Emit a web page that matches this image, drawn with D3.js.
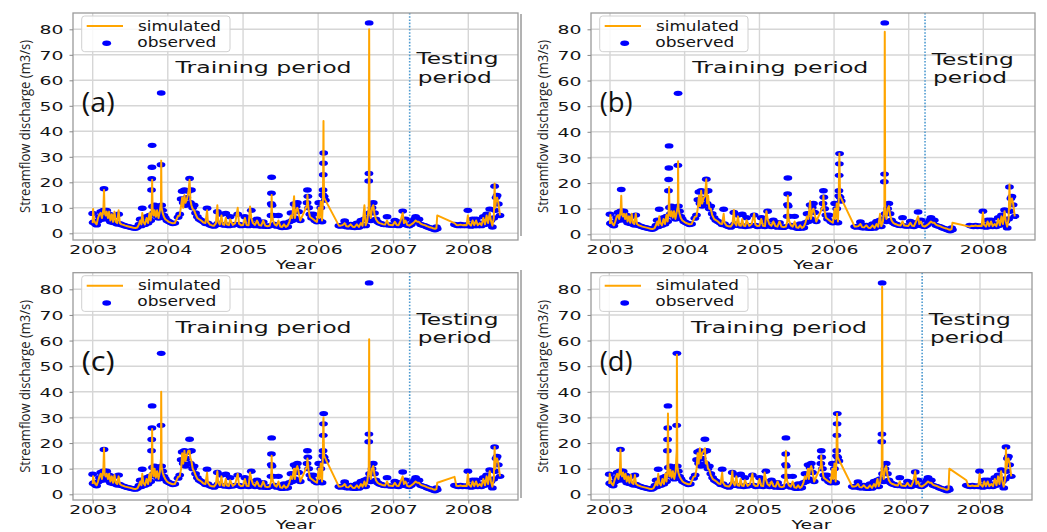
<!DOCTYPE html>
<html><head><meta charset="utf-8">
<script src="https://cdn.jsdelivr.net/npm/d3@7"></script>
<style>body{margin:0;background:#fff} svg{display:block}</style>
</head><body>
<svg id="chart" width="1047" height="532"></svg>
<script>
const dates = [
"2003-01-01","2003-01-03","2003-01-08","2003-01-14","2003-01-20","2003-01-27","2003-02-03","2003-02-09","2003-02-15","2003-02-22",
"2003-02-25","2003-02-28","2003-03-05","2003-03-10","2003-03-16","2003-03-22","2003-03-28","2003-04-04","2003-04-10","2003-04-17",
"2003-04-23","2003-04-30","2003-05-07","2003-05-13","2003-05-21","2003-05-30","2003-06-08","2003-06-18","2003-06-28","2003-07-08",
"2003-07-18","2003-07-28","2003-08-06","2003-08-14","2003-08-20","2003-08-26","2003-08-30","2003-09-04","2003-09-12","2003-09-20",
"2003-09-27","2003-10-04","2003-10-10","2003-10-14","2003-10-15","2003-10-16","2003-10-17","2003-10-19","2003-10-24","2003-10-29",
"2003-11-04","2003-11-10","2003-11-17","2003-11-24","2003-11-29","2003-11-30","2003-12-02","2003-12-07","2003-12-13","2003-12-20",
"2003-12-28","2004-01-06","2004-01-15","2004-01-25","2004-02-04","2004-02-20","2004-02-28","2004-03-06","2004-03-11","2004-03-16",
"2004-03-22","2004-03-27","2004-04-02","2004-04-10","2004-04-16","2004-04-20","2004-04-25","2004-05-01","2004-05-08","2004-05-15",
"2004-05-24","2004-06-02","2004-06-12","2004-06-22","2004-07-02","2004-07-10","2004-07-14","2004-07-24","2004-08-03","2004-08-13",
"2004-08-22","2004-08-29","2004-09-02","2004-09-10","2004-09-18","2004-09-24","2004-10-02","2004-10-09","2004-10-15","2004-10-24",
"2004-10-30","2004-11-12","2004-11-24","2004-12-06","2004-12-12","2004-12-22","2005-01-01","2005-01-10","2005-01-18","2005-01-28",
"2005-02-04","2005-02-10","2005-02-18","2005-02-28","2005-03-10","2005-03-20","2005-03-30","2005-04-09","2005-04-19","2005-04-29",
"2005-05-10","2005-05-17","2005-05-18","2005-05-19","2005-05-20","2005-05-22","2005-05-27","2005-06-04","2005-06-13","2005-06-22",
"2005-07-01","2005-07-10","2005-07-19","2005-07-28","2005-08-06","2005-08-14","2005-08-22","2005-08-28","2005-09-06","2005-09-10",
"2005-09-16","2005-09-22","2005-09-28","2005-10-06","2005-11-08","2005-11-10","2005-11-12","2005-11-16","2005-11-22","2005-11-30",
"2005-12-08","2005-12-16","2005-12-26","2006-01-04","2006-01-08","2006-01-14","2006-01-20","2006-01-24","2006-01-25","2006-01-26",
"2006-01-27","2006-01-28","2006-01-30","2006-02-05","2006-04-12","2006-04-20","2006-04-30","2006-05-10","2006-05-18","2006-05-28",
"2006-06-08","2006-06-18","2006-06-28","2006-07-08","2006-07-18","2006-07-28","2006-08-05","2006-08-14","2006-08-20","2006-08-28",
"2006-09-04","2006-09-05","2006-09-06","2006-09-08","2006-09-14","2006-09-20","2006-09-26","2006-10-02","2006-10-09","2006-10-17",
"2006-10-26","2006-11-04","2006-11-13","2006-11-22","2006-12-02","2006-12-10","2006-12-20","2006-12-30","2007-01-09","2007-01-18",
"2007-01-27","2007-02-06","2007-02-16","2007-02-22","2007-03-02","2007-03-10","2007-03-20","2007-03-30","2007-04-08","2007-04-14",
"2007-04-20","2007-04-28","2007-05-06","2007-05-14","2007-05-24","2007-06-03","2007-06-13","2007-06-23","2007-07-03","2007-07-13",
"2007-07-23","2007-07-30","2007-08-03","2007-10-26","2007-11-04","2007-11-14","2007-11-24","2007-12-04","2007-12-14","2007-12-24",
"2007-12-30","2008-01-04","2008-01-14","2008-01-22","2008-01-30","2008-02-08","2008-02-16","2008-02-26","2008-03-05","2008-03-14",
"2008-03-22","2008-03-30","2008-04-06","2008-04-14","2008-04-20","2008-04-27","2008-05-04","2008-05-08","2008-05-11","2008-05-15",
"2008-05-20","2008-05-26","2008-06-03"];

const observed = [
7.8,4.2,4.5,3.6,3.3,4.8,6.5,8.5,5.5,9,
17.5,9,6.5,9,5.5,7.5,4.5,6.5,4.2,7,
4,3.6,7.5,3.8,3.4,3.2,2.9,2.7,2.5,2.3,
2.1,2,2.4,3.5,5.5,3,9.8,4.5,3.5,6.5,
4,7,5,17,21.4,25.9,34.5,10.5,8,11,
7,9.5,6,8.5,26.9,55,11,9,7,6,
5,4.6,4.2,3.8,4,6.3,7.5,13.5,16.5,12,
17,11,14,16.5,21.5,12,17,10,11,8,
6.5,5.5,5,4.5,3.8,9.8,4,3.3,3,2.8,
3.3,8.5,4,3.5,7.5,3.4,3.2,7.8,3.3,3,
6.5,3.2,3.5,7.5,3.5,3,3.2,6.5,3.2,3,
5,9,3.5,3,5.5,3,2.8,4.5,2.8,2.7,
3,7,11.6,15.7,22,11,7,3.5,2.8,7,
2.5,2.3,4,2.4,2.6,4.5,8,5,11.5,6,
10.5,12,8.5,5,12,17,14.5,10,7.5,6,
7.5,5,4.5,12,5,10,4.5,15,17,23,
27.5,31.5,14.5,13,3,2.8,3.2,4.8,2.6,2.5,
3.5,2.4,2.3,4,2.4,5,3,5.5,3,6,
20.5,23.5,82.5,8,5,10,12,8,5.5,4.5,
4,3.8,3.5,3.4,6.5,3.3,3.2,3.2,5,3.2,
3,4.5,8.7,3.5,5.5,3.2,3,3.5,4.5,5.5,
6.5,4.5,5.5,3.5,3.2,3,2.6,2.3,2,1.7,
1.4,2.5,1.8,3.5,3.2,3,3.5,3,3.3,3,
9,3.5,2.8,5.5,3,5.5,3,4,3,6.5,
3.5,7.5,4,9.5,5,2.5,6,18.5,9,14,
14.8,11.5,7];

const simA = [
4,9.5,5,4,3.5,6,7.5,8,6,9.5,
17,8,7,8.5,6,8.5,5,7.5,4.5,8.5,
4.5,4,9,4,3.5,3.3,3,2.8,2.6,2.4,
2.2,2.1,2.3,3.5,5,3.5,8,4.5,3.5,6,
4,8,5,8,11,15,21,10,7,9,
6.5,9,6,9,12,28.5,10,8,6.5,5.5,
5,4.5,4.2,3.9,4,6.8,7,11,14,10,
15,12,13,16,21,13,11,9.5,9,7.5,
6,5.5,5,4.2,4,9,4.5,3.4,3.1,3,
4,11,4.5,3.5,7,3.5,3.3,6,3.4,3.2,
5.5,3.3,4,10,3.8,3.2,3.3,6,3.3,3.2,
10.5,6,4,3.3,5,3.2,3,5,3,2.8,
3,5,8,10,15,7,5,3.5,3,5,
2.7,2.5,3.5,2.5,3,4.5,7,6,14.5,6,
9,10,8,5,11,15,12,9,6.5,6,
5.5,5,4.5,10,6,12.5,5,12,20,30,
44,25,14,13,3,3,3.2,4,2.8,2.7,
3.5,2.6,2.5,3.5,2.5,4,3,11,3.2,5,
10,30,80,9,6,10,11,7.5,5.5,4.5,
4,3.8,3.5,3.4,5,3.4,3.3,3.2,4.5,3.3,
3.2,5,8,4,5,3.3,3,3.5,4,4.5,
5,4.5,4.5,3.8,3.4,3.2,2.8,2.5,2.3,2,
1.8,2,7,4,3.3,3.2,3.4,3.2,3.3,3.2,
7,3.8,3,5,3.2,5,3.2,4,3.2,6,
3.5,7,4,8,5,3,6,19.5,10,13,
14,12,7];

const simB = [
4,7.5,5,4,3.5,5,7,7.5,6,9,
15,8,7,8,6,8,5,7,4.5,8,
4.5,4,8,4,3.5,3.3,3,2.8,2.6,2.4,
2.2,2.1,2.3,3.5,5,3.5,7,4.5,3.5,6,
4,7.5,5,8,10,13,18.5,9,7,9,
6.5,9,6,9,11,28.5,10,8,6.5,5.5,
5,4.5,4.2,3.9,4,6.8,7,10.5,15,11,
17,12,14,15,21.5,12,15,10,10,7.5,
6,5.5,5,4.2,4,8,4.5,3.4,3.1,3,
4,9.5,4.5,3.5,7,3.5,3.3,6,3.4,3.2,
5.5,3.3,4,8,3.8,3.2,3.3,6,3.3,3.2,
9,6,4,3.3,5,3.2,3,5,3,2.8,
3,5,8,10,15,7,5,3.5,3,5,
2.7,2.5,3.5,2.5,3,4.5,7,6,13,6,
9,10,8,5,11,15,12,9,6.5,6,
5.5,5,4.5,10,6,12,5,14,22,28,
31.5,27,15,14,3,3,3.2,4,2.8,2.7,
3.5,2.6,2.5,3.5,2.5,4,3,8,3.2,5,
10,30,79,9,6,10,11,7.5,5.5,4.5,
4,3.8,3.5,3.4,5,3.4,3.3,3.2,4.5,3.3,
3.2,5,7,4,5,3.3,3,3.5,4,4.5,
5,4.5,4.5,3.8,3.4,3.2,2.8,2.5,2.3,2,
1.8,2,4.5,3,3.3,3.2,3.4,3.2,3.3,3.2,
8.5,3.8,3,5,3.2,5,3.2,4,3.2,6,
3.5,7,4,9,5,3,6,19.5,10,13,
14,12,7];

const simC = [
4,7,5,4,3.5,5,7,8,6,10,
18,8,7,8,6,8,5,7,4.5,7.5,
4.5,4,7,4,3.5,3.3,3,2.8,2.6,2.4,
2.2,2.1,2.3,3.5,5,3.5,8,4.5,3.5,6,
4,8,5,9,12,18,25.5,11,7,10,
6.5,9,6,9,14,40,11,8.5,7,6,
5,4.5,4.2,3.9,4,6.8,7,10,16,12,
17,13,15,17,17,14,13,10,9,7.5,
6,5.5,5,4.2,4,8.5,4.5,3.4,3.1,3,
4,9,4.5,3.5,7,3.5,3.3,6,3.4,3.2,
5.5,3.3,4,8,3.8,3.2,3.3,6,3.3,3.2,
8.5,6,4,3.3,5,3.2,3,5,3,2.8,
3,5,8,10,15,7,5,3.5,3,5,
2.7,2.5,3.5,2.5,3,4.5,7,6,10,6,
10,11,9,5,11,14,12,9,6.5,6,
5.5,5,4.5,10,6,12,5,15,22,28,
30,22,15,14,3,3,3.2,4,2.8,2.7,
3.5,2.6,2.5,3.5,2.5,4,3,5,3.2,5,
10,25,60.5,9,6,10,11,7.5,5.5,4.5,
4,3.8,3.5,3.4,5,3.4,3.3,3.2,4.5,3.3,
3.2,5,7,4,5,3.3,3,3.5,4,4.5,
5,4.5,4.5,3.8,3.4,3.2,2.8,2.5,2.3,2,
1.8,2,4.5,6.8,3.3,3.2,3.4,3.2,3.3,3.2,
8,3.8,3,5,3.2,5,3.2,4,3.2,6,
3.5,7,4,9,5,3,6,18.5,10,14,
14,12,7];

const simD = [
4,8,5,4,3.5,5.5,7,8,6,9.5,
17.5,8,7,8.5,6,8,5,7,4.5,7.5,
4.5,4,7.5,4,3.5,3.3,3,2.8,2.6,2.4,
2.2,2.1,2.3,3.5,5,3.5,8,4.5,3.5,6,
4,8,5,9,14,22,31.5,11,7,9.5,
6.5,9,6,9,17,54.5,11,8.5,7,6,
5,4.5,4.2,3.9,4,6.8,7,10,16,12,
18,14,16,17,18,12,13,10,9.5,7.5,
6,5.5,5,4.2,4,8.5,4.5,3.4,3.1,3,
4,9,4.5,3.5,7,3.5,3.3,6,3.4,3.2,
5.5,3.3,4,8,3.8,3.2,3.3,6,3.3,3.2,
8.5,6,4,3.3,5,3.2,3,5,3,2.8,
3,6,10,13,17,7,5,3.5,3,5,
2.7,2.5,3.5,2.5,3,4.5,7,6,10,6,
10,11,9,5,11,15,12,9,6.5,6,
5.5,5,4.5,10,6,12,5,14,22,28,
31.5,25,14.5,13.5,3,3,3.2,4,2.8,2.7,
3.5,2.6,2.5,3.5,2.5,4,3,6,3.2,5,
10,30,81,9,6,10,11,7.5,5.5,4.5,
4,3.8,3.5,3.4,5,3.4,3.3,3.2,4.5,3.3,
3.2,5,9,4,5,3.3,3,3.5,4,4.5,
5,4.5,4.5,3.8,3.4,3.2,2.8,2.5,2.3,2,
1.8,2,10,5.5,3.3,3.2,3.4,3.2,3.3,3.2,
8,3.8,3,5,3.2,5,3.2,4,3.2,6,
3.5,7,4,9,5,3,6,18,10,13,
14,12,7];

const yTicks = [0,10,20,30,40,50,60,70,80];
const xTickYears = [2003,2004,2005,2006,2007,2008];
const panelLabels = ["(a)","(b)","(c)","(d)"];
const legendLabels = ["simulated","observed"];
const splitDate = "2007-03-22";
const yLabel = "Streamflow discharge (m3/s)";
const xLabel = "Year";
const trainingText = "Training period";
const testingText = ["Testing","period"];

const parse = d3.timeParse("%Y-%m-%d");
const svg = d3.select("#chart");
svg.append("rect").attr("width",1047).attr("height",532).attr("fill","#fff");

const panels = [
 {label:panelLabels[0], sim:simA, left:73,  right:518,  top:13,    bottom:240, x2003:92.7,  x2008:468.3, y0:233.3, y80:29.3},
 {label:panelLabels[1], sim:simB, left:591, right:1035, top:13,    bottom:240, x2003:610,   x2008:983.3, y0:234.3, y80:29.3},
 {label:panelLabels[2], sim:simC, left:73,  right:518,  top:272.7, bottom:500, x2003:92.7,  x2008:468.3, y0:494.3, y80:289.3},
 {label:panelLabels[3], sim:simD, left:591, right:1032, top:272.7, bottom:500, x2003:609.3, x2008:980,   y0:494.3, y80:289.3}
];

const SX = 1.45;
const DJ = "DejaVu Sans, sans-serif";
const OS = "Open Sans, Lato, sans-serif";
const ORANGE = "#ffa500", BLUE = "#0000ff";
const INK = "#141414";

[[14,236],[270,498]].forEach(([a,b]) => {
  svg.append("line").attr("x1",521).attr("x2",521).attr("y1",a).attr("y2",b)
    .attr("stroke","#666").attr("stroke-width",1);
});

panels.forEach(p => {
  const x = d3.scaleTime().domain([new Date(2003,0,1), new Date(2008,0,1)]).range([p.x2003, p.x2008]);
  const y = d3.scaleLinear().domain([0,80]).range([p.y0, p.y80]);
  const g = svg.append("g");

  g.append("g").selectAll("line").data(yTicks).join("line")
    .attr("x1",p.left).attr("x2",p.right).attr("y1",d=>y(d)).attr("y2",d=>y(d))
    .attr("stroke","#d6d6d6").attr("stroke-width",1.4);
  g.append("g").selectAll("line").data(xTickYears).join("line")
    .attr("x1",d=>x(new Date(d,0,1))).attr("x2",d=>x(new Date(d,0,1)))
    .attr("y1",p.top).attr("y2",p.bottom)
    .attr("stroke","#d6d6d6").attr("stroke-width",1.4);

  const xs = x(parse(splitDate));
  g.append("line").attr("x1",xs).attr("x2",xs).attr("y1",p.top).attr("y2",p.bottom)
    .attr("stroke","#4f9bd0").attr("stroke-width",1.6).attr("stroke-dasharray","1.6,1.6");

  const pts = dates.map((d,i)=>({t:parse(d), o:observed[i], s:p.sim[i]}));
  g.append("g").selectAll("ellipse").data(pts).join("ellipse")
    .attr("cx",d=>x(d.t)).attr("cy",d=>y(d.o)).attr("rx",4.4).attr("ry",2.7)
    .attr("fill",BLUE);
  g.append("path").datum(pts)
    .attr("d", d3.line().x(d=>x(d.t)).y(d=>y(d.s)))
    .attr("fill","none").attr("stroke",ORANGE).attr("stroke-width",2).attr("stroke-linejoin","round");

  g.append("rect").attr("x",p.left).attr("y",p.top)
    .attr("width",p.right-p.left).attr("height",p.bottom-p.top)
    .attr("fill","none").attr("stroke","#9a9a9a").attr("stroke-width",1.3);

  const ax = g.append("g").attr("transform",`translate(0,${p.bottom})`)
    .call(d3.axisBottom(x).tickValues(xTickYears.map(v=>new Date(v,0,1)))
      .tickFormat(d3.timeFormat("%Y")).tickSize(3.5));
  ax.select(".domain").remove();
  ax.selectAll(".tick line").attr("stroke","#888");
  ax.selectAll(".tick text").attr("y",14.5).attr("dy",null)
    .attr("font-family",DJ).attr("font-size",13).attr("fill",INK)
    .attr("transform",`scale(${SX},1)`);

  const ay = g.append("g").attr("transform",`translate(${p.left},0)`)
    .call(d3.axisLeft(y).tickValues(yTicks).tickSize(3.5));
  ay.select(".domain").remove();
  ay.selectAll(".tick line").attr("stroke","#888");
  ay.selectAll(".tick text").attr("x",-9.5/SX).attr("dy","0.36em")
    .attr("font-family",DJ).attr("font-size",13).attr("fill",INK)
    .attr("transform",`scale(${SX},1)`);

  g.append("text").attr("x",(p.left+p.right)/2).attr("y",p.bottom+29)
    .attr("text-anchor","middle").attr("font-family",DJ).attr("font-size",12)
    .attr("textLength",40).attr("lengthAdjust","spacingAndGlyphs").attr("fill",INK)
    .text(xLabel);
  g.append("text")
    .attr("transform",`translate(${p.left-43.5},${(p.top+p.bottom)/2}) rotate(-90)`)
    .attr("text-anchor","middle").attr("font-family",OS).attr("font-size",15)
    .attr("textLength",173).attr("lengthAdjust","spacingAndGlyphs").attr("fill","#222")
    .text(yLabel);

  g.append("text").attr("x",p.left+8.7).attr("y",p.top+98.5)
    .attr("font-family",OS).attr("font-size",27).attr("fill","#111")
    .attr("textLength",33).attr("lengthAdjust","spacingAndGlyphs")
    .text(p.label);

  g.append("text").attr("x",x(parse("2004-02-08"))).attr("y",y(63))
    .attr("font-family",DJ).attr("font-size",16.5).attr("fill",INK)
    .attr("textLength",176).attr("lengthAdjust","spacingAndGlyphs").text(trainingText);
  g.append("text").attr("x",x(parse("2007-04-24"))).attr("y",y(66.2))
    .attr("font-family",DJ).attr("font-size",15.5).attr("fill",INK)
    .attr("textLength",82).attr("lengthAdjust","spacingAndGlyphs").text(testingText[0]);
  g.append("text").attr("x",x(parse("2007-04-30"))).attr("y",y(59.1))
    .attr("font-family",DJ).attr("font-size",15.5).attr("fill",INK)
    .attr("textLength",74).attr("lengthAdjust","spacingAndGlyphs").text(testingText[1]);

  const lg = g.append("g").attr("transform",`translate(${p.left},${p.top})`);
  lg.append("rect").attr("x",8.7).attr("y",3).attr("width",148.3).attr("height",35.7)
    .attr("rx",3).attr("fill","#fff").attr("fill-opacity",0.85)
    .attr("stroke","#d0d0d0").attr("stroke-width",1);
  lg.append("line").attr("x1",13.7).attr("x2",50).attr("y1",13).attr("y2",13)
    .attr("stroke",ORANGE).attr("stroke-width",2);
  lg.append("ellipse").attr("cx",33.7).attr("cy",30.3).attr("rx",4.4).attr("ry",2.7).attr("fill",BLUE);
  lg.append("text").attr("x",65).attr("y",17.5).attr("font-family",DJ).attr("font-size",13.5)
    .attr("textLength",83).attr("lengthAdjust","spacingAndGlyphs").attr("fill",INK).text(legendLabels[0]);
  lg.append("text").attr("x",64.3).attr("y",33.5).attr("font-family",DJ).attr("font-size",13.5)
    .attr("textLength",79).attr("lengthAdjust","spacingAndGlyphs").attr("fill",INK).text(legendLabels[1]);
});
</script>
</body></html>
